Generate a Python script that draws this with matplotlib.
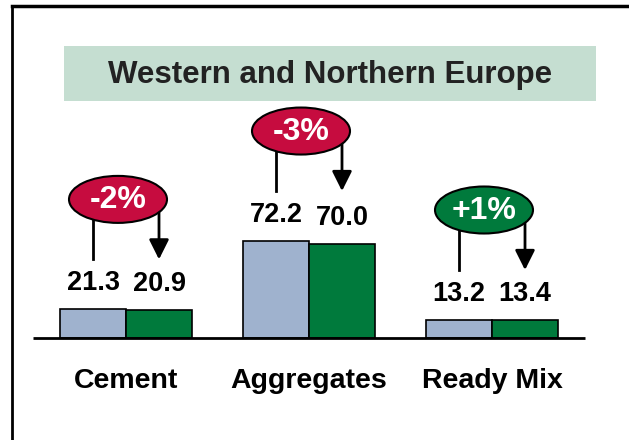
import matplotlib
matplotlib.use("Agg")
import matplotlib.pyplot as plt
from matplotlib.patches import Ellipse, Rectangle

categories = ['Cement', 'Aggregates', 'Ready Mix']
prev_year = [21.3, 72.2, 13.2]
this_year = [20.9, 70.0, 13.4]
changes = ['-2%', '-3%', '+1%']
title = 'Western and Northern Europe'

blue = '#9fb2ce'
green = '#007a3c'
red = '#c60c3f'

W, H = 629, 440
fig = plt.figure(figsize=(W / 100, H / 100), dpi=100)
ax = fig.add_axes([0, 0, 1, 1])

# pixel scale: baseline at y=338 from top, ~1.343 px per unit
px = 1.343
base = H - 338
ax.set_ylim(-base / px, (H - base) / px)
step = 183.0
x0 = 126.0
ax.set_xlim(-x0 / step, (W - x0) / step)
ax.axis('off')

def dx(p):
    return p / step

def dy(p):
    return p / px

bw = dx(66)
xs = list(range(len(categories)))
ax.bar([x - bw / 2 for x in xs], prev_year, width=bw, color=blue,
       edgecolor='black', linewidth=1.2)
ax.bar([x + bw / 2 for x in xs], this_year, width=bw, color=green,
       edgecolor='black', linewidth=1.2)
ax.plot([dx(33 - x0), dx(585 - x0)], [0, 0], color='black', lw=2,
        solid_capstyle='butt')

fs = 19.5
for i, x in enumerate(xs):
    a, b = prev_year[i], this_year[i]
    top = max(a, b)
    ax.text(x - bw / 2, a + dy(26), f'{a:.1f}', ha='center', va='center',
            fontsize=fs, fontweight='bold', family='Liberation Sans')
    ax.text(x + bw / 2, b + dy(26), f'{b:.1f}', ha='center', va='center',
            fontsize=fs, fontweight='bold', family='Liberation Sans')
    tip = top + dy(50)
    ec = top + dy(110)
    ax.plot([x - bw / 2, x - bw / 2], [tip, ec], color='black', lw=2)
    ax.annotate('', xy=(x + bw / 2, tip), xytext=(x + bw / 2, ec),
                arrowprops=dict(arrowstyle='-|>', color='black', lw=2,
                                mutation_scale=30, shrinkA=0, shrinkB=0))
    col = green if changes[i].startswith('+') else red
    ax.add_patch(Ellipse((x - dx(8), ec), dx(98), dy(47), facecolor=col,
                         edgecolor='black', lw=1.5, zorder=5))
    ax.text(x - dx(8), ec - dy(1), changes[i], ha='center', va='center',
            color='white', fontsize=23, fontweight='bold',
            family='Liberation Sans', zorder=6)
    ax.text(x, dy(-43), categories[i], ha='center', va='center',
            fontsize=20.5, fontweight='bold', family='Liberation Sans')

# title box and frame in figure pixels
fig.patches.append(Rectangle((64 / W, 1 - 101 / H), 532 / W, 55 / H,
                             transform=fig.transFigure, facecolor='#c5ded1',
                             edgecolor='none'))
fig.text(330 / W, 1 - 75 / H, title, ha='center', va='center', fontsize=22.5,
         fontweight='bold', color='#222222', family='Liberation Sans')
fig.lines.append(plt.Line2D([12 / W, 12 / W], [0, 1 - 6 / H],
                            transform=fig.transFigure, color='black', lw=2))
fig.lines.append(plt.Line2D([12 / W, 1], [1 - 6 / H, 1 - 6 / H],
                            transform=fig.transFigure, color='black', lw=2.5))

fig.savefig('out.png', dpi=100)
